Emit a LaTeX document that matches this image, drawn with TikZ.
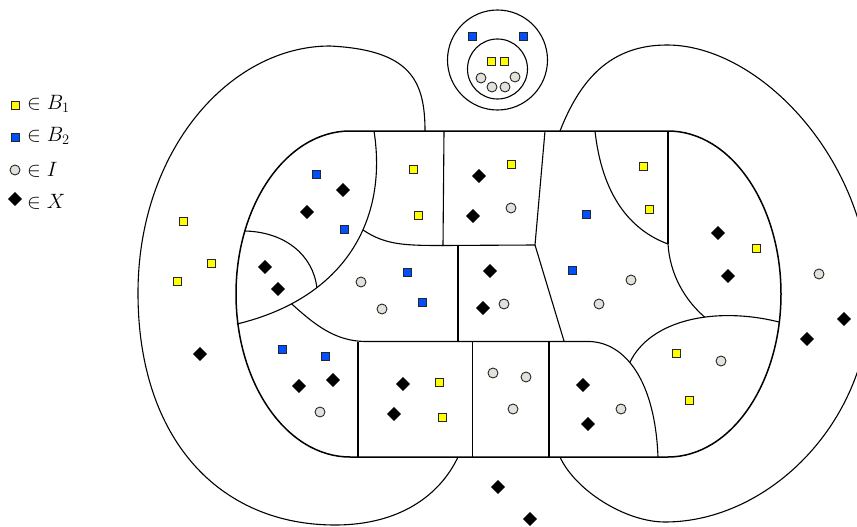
\documentclass[tikz,border=0pt]{standalone}
\usetikzlibrary{shapes.geometric}
\definecolor{myyellow}{RGB}{255,255,0}
\definecolor{myblue}{RGB}{0,80,255}
\definecolor{mygray}{RGB}{226,226,220}
\tikzset{
  sqY/.style={rectangle,draw=black!85,fill=myyellow,line width=0.9pt,minimum size=8pt,inner sep=0pt},
  sqB/.style={rectangle,draw=black!85,fill=myblue,line width=0.9pt,minimum size=8pt,inner sep=0pt},
  circI/.style={circle,draw=black!85,fill=mygray,line width=0.9pt,minimum size=10pt,inner sep=0pt},
  diaX/.style={diamond,fill=black,draw=black,line width=0.3pt,minimum size=13.5pt,inner sep=0pt},
  border/.style={line width=1.5pt},
  wall/.style={line width=1.1pt},
  loop/.style={line width=1.1pt},
  legtext/.style={anchor=base west,inner sep=0pt,font=\fontsize{22}{26}\selectfont}
}
\begin{document}
\begin{tikzpicture}[x=1pt,y=-1pt]
\useasboundingbox (0,0) rectangle (857,527);
\clip (0,0) rectangle (857,527);

% outer loops
\draw[loop] (425,131) .. controls (425,80) and (410,50) .. (330,46)
  .. controls (230,46) and (138,150) .. (138,293)
  .. controls (138,440) and (220,525) .. (335,525)
  .. controls (400,525) and (440,495) .. (458,457);
\draw[loop] (560,131) .. controls (580,80) and (610,45) .. (667,45)
  .. controls (760,45) and (868,160) .. (870,293)
  .. controls (872,420) and (770,522) .. (665,522)
  .. controls (625,522) and (575,490) .. (560,457);

% top circles
\draw[loop] (497.5,60) circle[radius=50pt];
\draw[loop] (497.5,69) circle[radius=30pt];

% stadium
\draw[border] (350,131) -- (668,131) arc[start angle=90,end angle=-90,x radius=113pt,y radius=163pt] -- (350,457) arc[start angle=270,end angle=90,x radius=114pt,y radius=163pt] -- cycle;

% inner walls
\draw[wall] (374,131) .. controls (388,220) and (345,298) .. coordinate[pos=0.4] (jB) coordinate[pos=0.7] (jC) coordinate[pos=0.81] (jD) (237,324);
\draw[wall] (245,231) .. controls (285,232) and (313,255) .. (jC);
\draw[wall] (jB) .. controls (385,245) and (405,245.5) .. (443,245.5);
\draw[wall] (444,131) -- (443,245.5) -- (535,245) -- (545,131);
\draw[wall] (535,245) -- (564,341);
\draw[wall] (458,245.5) -- (458,341);
\draw[wall] (jD) .. controls (315,325) and (335,341) .. (365,341.5) -- (590,341.5)
  .. controls (625,343) and (655,380) .. coordinate[pos=0.42] (jY) (658,457);
\draw[wall] (358,341.5) -- (358,457);
\draw[wall] (472.5,341.5) -- (472.5,457);
\draw[wall] (549,341.5) -- (549,457);
\draw[wall] (668,131) -- (668,244);
\draw[wall] (595,131) .. controls (602,195) and (630,230) .. (668,244);
\draw[wall] (jY) .. controls (650,320) and (715,306) .. coordinate[pos=0.6] (jW) (779,322);
\draw[wall] (668,244) .. controls (670,275) and (685,300) .. (jW);

% yellow squares
\foreach \x/\y [count=\i] in {15/105, 491/61, 504/61, 413/169, 418/215, 511/164, 643/166, 649/209, 756/248, 439/382, 442/417, 676/353, 689/400, 183/221, 211/263, 177/281}
  \node[sqY] (y\i) at (\x,\y) {};
% blue squares
\foreach \x/\y [count=\i] in {15/137, 472/36, 523/36, 316/174, 344/229, 407/272, 422/302, 586/214, 572/270, 282/349, 325/356}
  \node[sqB] (b\i) at (\x,\y) {};
% grey circles
\foreach \x/\y [count=\i] in {15/170, 481/78, 492/87, 505/87, 515/77, 361/282, 382/309, 511/208, 504/304, 631/280, 599/304, 819/274, 721/361, 621/409, 493/373, 526/377, 513/409, 320/412}
  \node[circI] (c\i) at (\x,\y) {};
% diamonds
\foreach \x/\y [count=\i] in {15/199, 343/190, 307/212, 265/267, 278/289, 479/176, 473/216, 490/271, 483/308, 718/233, 728/276, 844/319, 807/339, 583/385, 588/424, 498/487, 530/519, 333/380, 299/386, 403/384, 394/414, 200/354}
  \node[diaX] (d\i) at (\x,\y) {};

% legend
\node[legtext] (t1) at (27,109.5) {$\in B_1$};
\node[legtext] (t2) at (27,141.7) {$\in B_2$};
\node[legtext] (t3) at (27,176.7) {$\in I$};
\node[legtext] (t4) at (27,208.3) {$\in X$};
\end{tikzpicture}
\end{document}
